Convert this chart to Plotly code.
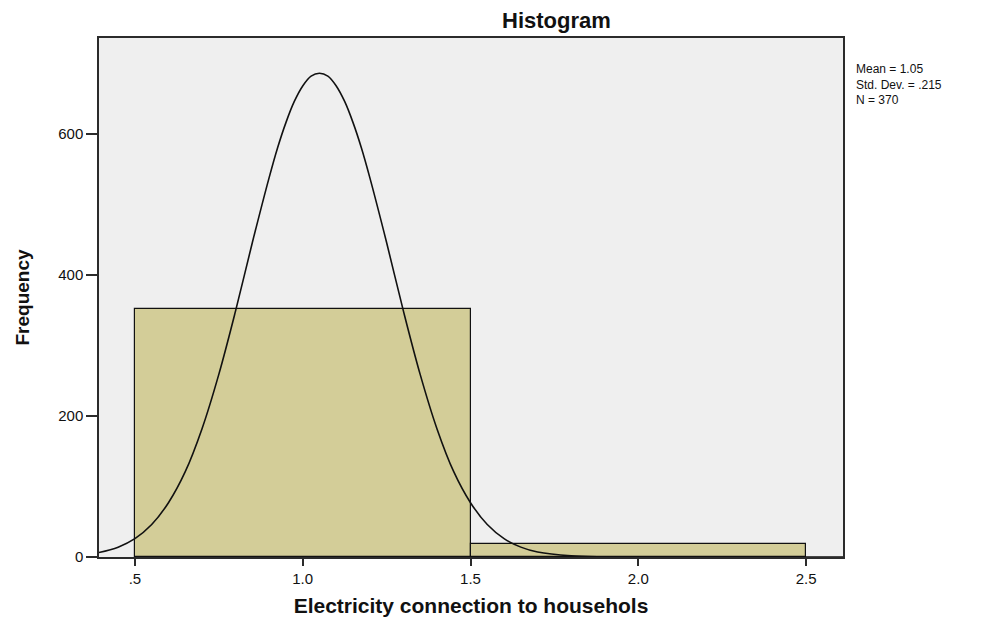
"""SPSS style histogram: electricity connection to households."""

import plotly.graph_objects as go

# histogram bins (centre, width, count)
bin_centers = [1.0, 2.0]
bin_widths = [1.0, 1.0]
bin_counts = [352, 18]

# fitted normal curve
curve_x = [0.39, 0.45, 0.5, 0.55, 0.6, 0.65, 0.7, 0.75, 0.8, 0.85, 0.9, 0.925,
           0.95, 0.975, 1.0, 1.025, 1.05, 1.075, 1.1, 1.125, 1.15, 1.175, 1.2,
           1.25, 1.3, 1.35, 1.4, 1.45, 1.5, 1.55, 1.6, 1.65, 1.7, 1.8, 1.9,
           2.0, 2.2, 2.4, 2.61]
curve_y = [6, 14, 26, 46, 77, 121, 182, 259, 349, 446, 538, 580,
           616, 646, 668, 682, 686, 682, 668, 646, 616, 580, 538,
           446, 349, 259, 182, 121, 77, 46, 26, 14, 7, 1.6, 0.3,
           0, 0, 0, 0]

x_tick_vals = [0.5, 1.0, 1.5, 2.0, 2.5]
x_tick_text = [".5", "1.0", "1.5", "2.0", "2.5"]
y_tick_vals = [0, 200, 400, 600]

stats_lines = ["Mean = 1.05", "Std. Dev. = .215", "N = 370"]

FONT = "Liberation Sans, Arial, sans-serif"
BAR_COLOR = "#d3cd98"
LINE_COLOR = "#2b2b2b"

fig = go.Figure()

fig.add_trace(
    go.Bar(
        x=bin_centers,
        y=bin_counts,
        width=bin_widths,
        marker={"color": BAR_COLOR, "line": {"color": "#111111", "width": 1.2}},
        showlegend=False,
        hoverinfo="skip",
    )
)

fig.add_trace(
    go.Scatter(
        x=curve_x,
        y=curve_y,
        mode="lines",
        line={"color": "#111111", "width": 1.6, "shape": "spline", "smoothing": 1.0},
        showlegend=False,
        hoverinfo="skip",
    )
)

# the page body adds 8px on the left/top, so the figure is a bit smaller
fig.update_layout(
    width=993,
    height=609,
    margin={"l": 91, "r": 158, "t": 30, "b": 60},
    paper_bgcolor="white",
    plot_bgcolor="#efefef",
    font={"family": FONT, "color": "#111111", "size": 15},
    bargap=0,
)

fig.update_xaxes(
    range=[0.393, 2.61],
    tickvals=x_tick_vals,
    ticktext=x_tick_text,
    ticks="outside",
    ticklen=7,
    tickwidth=1.5,
    tickcolor=LINE_COLOR,
    showgrid=False,
    zeroline=False,
    showline=True,
    linecolor=LINE_COLOR,
    linewidth=1.5,
    mirror=True,
    automargin=False,
    tickfont={"size": 15},
    title={
        "text": "<b>Electricity connection to househols</b>",
        "font": {"size": 21},
        "standoff": 13,
    },
)

fig.update_yaxes(
    range=[0, 736],
    tickvals=y_tick_vals,
    ticks="outside",
    ticklen=11,
    tickwidth=1.5,
    tickcolor=LINE_COLOR,
    showgrid=False,
    zeroline=False,
    showline=True,
    linecolor=LINE_COLOR,
    linewidth=1.5,
    mirror=True,
    automargin=False,
    tickfont={"size": 15},
    title={
        "text": "<b>Frequency</b>",
        "font": {"size": 19},
        "standoff": 24,
    },
)

fig.add_annotation(
    text="<b>Histogram</b>",
    xref="paper",
    yref="paper",
    x=0.615,
    y=1.0,
    yshift=18,
    xanchor="center",
    yanchor="middle",
    showarrow=False,
    font={"size": 22},
)

fig.add_annotation(
    text="<br>".join(stats_lines),
    xref="paper",
    yref="paper",
    x=1.0,
    xshift=11,
    y=1.0,
    yshift=-22,
    xanchor="left",
    yanchor="top",
    align="left",
    showarrow=False,
    font={"size": 12},
)

fig.write_html("out.html")
